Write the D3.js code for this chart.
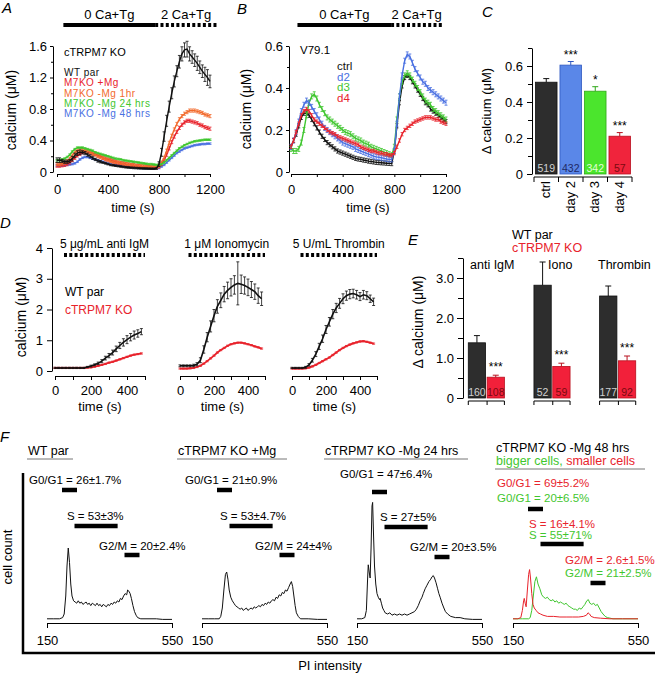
<!DOCTYPE html>
<html>
<head>
<meta charset="utf-8">
<script src="https://cdn.jsdelivr.net/npm/d3@7"></script>
<style>
body { margin: 0; background: #fff; }
svg { font-family: "Liberation Sans", Arial, Helvetica, sans-serif; }
</style>
</head>
<body>
<svg id="fig" width="657" height="675"></svg>
<script>
// ---------- data ----------
// A: Ca traces, sampled every 20 s
const tA = d3.range(0, 1201, 20);
const aLegend = ['WT par', 'M7KO +Mg', 'M7KO -Mg 1hr', 'M7KO -Mg 24 hrs', 'M7KO -Mg 48 hrs'];
const aWT = [0.15,0.15,0.14,0.13,0.13,0.14,0.17,0.21,0.24,0.25,0.25,0.24,0.22,0.2,0.18,0.16,0.14,0.13,0.12,0.11,
  0.1,0.09,0.085,0.08,0.075,0.07,0.065,0.06,0.058,0.055,0.052,0.05,0.048,0.046,0.045,0.044,0.043,0.042,0.042,0.045,
  0.1,0.25,0.45,0.65,0.83,1.0,1.15,1.28,1.4,1.5,1.55,1.56,1.5,1.46,1.42,1.38,1.33,1.28,1.24,1.2,1.15];
const aWTErr = [0.03,0.03,0.02,0.02,0.02,0.02,0.03,0.03,0.03,0.03,0.02,0.02,0.02,0.02,0.02,0.015,0.015,0.015,0.01,0.01,
  0.01,0.01,0.01,0.01,0.01,0.01,0.01,0.01,0.01,0.01,0.01,0.01,0.01,0.01,0.01,0.01,0.01,0.01,0.01,0.01,
  0.03,0.05,0.06,0.07,0.07,0.07,0.07,0.07,0.08,0.09,0.09,0.1,0.09,0.08,0.08,0.09,0.08,0.08,0.09,0.1,0.08];
const aMg = [0.08,0.08,0.085,0.09,0.1,0.12,0.15,0.18,0.21,0.23,0.25,0.26,0.26,0.25,0.24,0.23,0.21,0.2,0.18,0.17,
  0.16,0.15,0.14,0.13,0.12,0.115,0.11,0.1,0.095,0.09,0.085,0.08,0.075,0.07,0.068,0.065,0.062,0.06,0.058,0.058,
  0.07,0.1,0.15,0.22,0.3,0.38,0.45,0.51,0.56,0.6,0.63,0.65,0.65,0.64,0.63,0.62,0.6,0.59,0.57,0.56,0.55];
const aMg1hr = [0.1,0.1,0.11,0.12,0.14,0.17,0.21,0.25,0.27,0.28,0.28,0.27,0.26,0.25,0.23,0.22,0.2,0.19,0.18,0.16,
  0.15,0.14,0.13,0.125,0.12,0.11,0.105,0.1,0.095,0.09,0.085,0.08,0.078,0.075,0.072,0.07,0.068,0.066,0.065,0.066,
  0.08,0.12,0.18,0.27,0.37,0.46,0.54,0.61,0.67,0.71,0.74,0.76,0.78,0.78,0.78,0.77,0.76,0.75,0.73,0.72,0.71];
const aMg24 = [0.15,0.15,0.16,0.17,0.19,0.22,0.26,0.29,0.31,0.31,0.31,0.3,0.29,0.28,0.27,0.25,0.24,0.23,0.22,0.21,
  0.2,0.19,0.18,0.17,0.165,0.16,0.15,0.145,0.14,0.135,0.13,0.125,0.12,0.115,0.11,0.105,0.1,0.1,0.095,0.09,
  0.09,0.1,0.12,0.15,0.18,0.21,0.24,0.27,0.3,0.32,0.34,0.355,0.37,0.38,0.39,0.395,0.4,0.405,0.41,0.41,0.41];
const aMg48 = [0.08,0.08,0.08,0.085,0.09,0.095,0.1,0.11,0.13,0.16,0.18,0.19,0.19,0.18,0.17,0.16,0.15,0.14,0.13,0.12,
  0.11,0.1,0.095,0.09,0.085,0.08,0.075,0.07,0.065,0.06,0.058,0.055,0.052,0.05,0.048,0.046,0.045,0.044,0.043,0.045,
  0.05,0.07,0.09,0.12,0.15,0.18,0.21,0.24,0.26,0.28,0.3,0.31,0.32,0.33,0.34,0.345,0.35,0.355,0.355,0.36,0.36];
const aProto = [{txt: '0 Ca+Tg', t0: 50, t1: 770, dash: false}, {txt: '2 Ca+Tg', t0: 770, t1: 1255, dash: true}];

// B: V79.1 traces
const bLegend = ['ctrl', 'd2', 'd3', 'd4'];
const bCtrl = [0.12,0.15,0.18,0.22,0.26,0.28,0.28,0.27,0.25,0.23,0.21,0.19,0.17,0.155,0.14,0.13,0.12,0.11,0.1,0.095,
  0.09,0.085,0.08,0.075,0.07,0.065,0.062,0.06,0.057,0.055,0.052,0.05,0.048,0.046,0.045,0.044,0.043,0.042,0.041,0.04,
  0.1,0.22,0.33,0.41,0.45,0.46,0.45,0.43,0.41,0.39,0.37,0.35,0.33,0.32,0.3,0.29,0.28,0.27,0.26,0.25,0.24];
const bD2 = [0.12,0.15,0.19,0.24,0.29,0.32,0.34,0.33,0.31,0.29,0.27,0.25,0.23,0.21,0.2,0.19,0.18,0.17,0.16,0.15,
  0.14,0.135,0.13,0.125,0.12,0.11,0.105,0.1,0.095,0.09,0.085,0.08,0.075,0.072,0.07,0.068,0.065,0.062,0.06,0.06,
  0.1,0.23,0.36,0.46,0.53,0.56,0.55,0.52,0.49,0.47,0.45,0.43,0.42,0.4,0.39,0.38,0.37,0.36,0.35,0.34,0.33];
const bD3 = [0.11,0.1,0.1,0.11,0.14,0.2,0.27,0.33,0.36,0.37,0.35,0.32,0.3,0.28,0.26,0.25,0.24,0.23,0.22,0.21,
  0.2,0.19,0.185,0.18,0.17,0.16,0.155,0.15,0.14,0.135,0.13,0.12,0.115,0.11,0.105,0.1,0.095,0.09,0.085,0.08,
  0.12,0.25,0.36,0.43,0.46,0.47,0.46,0.44,0.42,0.4,0.38,0.36,0.34,0.33,0.32,0.3,0.29,0.28,0.27,0.26,0.25];
const bD4 = [0.12,0.15,0.19,0.23,0.27,0.29,0.3,0.29,0.27,0.25,0.24,0.23,0.22,0.21,0.2,0.19,0.185,0.18,0.17,0.165,
  0.16,0.155,0.15,0.145,0.14,0.135,0.13,0.12,0.115,0.11,0.105,0.1,0.1,0.095,0.09,0.09,0.085,0.085,0.08,0.08,
  0.09,0.12,0.15,0.18,0.2,0.21,0.22,0.23,0.24,0.245,0.25,0.255,0.26,0.26,0.26,0.255,0.25,0.25,0.24,0.235,0.23];
const bProto = [{txt: '0 Ca+Tg', t0: 50, t1: 775, dash: false}, {txt: '2 Ca+Tg', t0: 775, t1: 1170, dash: true}];

// C: delta calcium bars
const cCats = ['ctrl', 'day 2', 'day 3', 'day 4'];
const cVals = [0.51, 0.605, 0.46, 0.21];
const cErr = [0.02, 0.02, 0.025, 0.02];
const cN = [519, 432, 342, 57];
const cSig = ['', '***', '*', '***'];

// D: stimulus traces, every 20 s
const tD = d3.range(0, 481, 20);
const dStim = ['5 μg/mL anti IgM', '1 μM Ionomycin', '5 U/mL Thrombin'];
const dWT = [
  [0.1,0.1,0.1,0.1,0.1,0.1,0.1,0.1,0.1,0.13,0.16,0.2,0.25,0.32,0.42,0.5,0.6,0.72,0.83,0.93,1.02,1.1,1.17,1.22,1.28],
  [0.17,0.17,0.17,0.17,0.18,0.22,0.35,0.7,1.1,1.45,1.8,2.1,2.3,2.5,2.62,2.72,2.8,2.85,2.82,2.78,2.72,2.65,2.58,2.45,2.35],
  [0.1,0.1,0.1,0.1,0.12,0.2,0.35,0.55,0.8,1.05,1.35,1.6,1.85,2.05,2.2,2.35,2.45,2.5,2.52,2.48,2.42,2.48,2.45,2.35,2.25]
];
const dWTErr = [
  [0.02,0.02,0.02,0.02,0.02,0.02,0.02,0.02,0.02,0.02,0.03,0.03,0.04,0.05,0.06,0.07,0.08,0.09,0.1,0.12,0.13,0.12,0.13,0.12,0.1],
  [0.03,0.03,0.03,0.03,0.04,0.05,0.08,0.12,0.15,0.18,0.2,0.22,0.24,0.25,0.27,0.28,0.3,0.7,0.3,0.28,0.27,0.26,0.25,0.25,0.22],
  [0.02,0.02,0.02,0.02,0.03,0.04,0.06,0.08,0.1,0.12,0.13,0.14,0.15,0.15,0.16,0.16,0.15,0.15,0.14,0.14,0.13,0.14,0.13,0.12,0.12]
];
const dKO = [
  [0.1,0.1,0.1,0.1,0.1,0.1,0.1,0.1,0.1,0.11,0.12,0.14,0.17,0.2,0.23,0.27,0.3,0.34,0.38,0.42,0.46,0.5,0.53,0.55,0.57],
  [0.08,0.08,0.08,0.09,0.1,0.13,0.17,0.24,0.32,0.41,0.5,0.6,0.68,0.75,0.82,0.87,0.9,0.92,0.92,0.9,0.87,0.84,0.8,0.77,0.73],
  [0.08,0.08,0.08,0.08,0.09,0.11,0.15,0.2,0.26,0.32,0.38,0.44,0.52,0.6,0.68,0.75,0.81,0.86,0.9,0.93,0.96,0.97,0.95,0.92,0.89]
];
const dProto = [50, 500];

// E: delta calcium, WT vs KO
const eGroups = ['anti IgM', 'Iono', 'Thrombin'];
const eWT = [1.38, 2.82, 2.55];
const eWTErr = [0.18, 0.58, 0.25];
const eKO = [0.52, 0.79, 0.93];
const eKOErr = [0.05, 0.08, 0.12];
const eNWT = [160, 52, 177];
const eNKO = [108, 59, 92];

// F: cell cycle histograms [PI intensity, count]
const fTitles = ['WT par', 'cTRPM7 KO +Mg', 'cTRPM7 KO -Mg 24 hrs', 'cTRPM7 KO -Mg 48 hrs'];
const fPhase = ['G0/G1', 'S', 'G2/M'];
const fGates = [[198, 246], [238, 376], [398, 446]];
const fPct = [['26±1.7%', '53±3%', '20±2.4%'], ['21±0.9%', '53±4.7%', '24±4%'], ['47±6.4%', '27±5%', '20±3.5%']];
const fPct48Small = ['69±5.2%', '16±4.1%', '2.6±1.5%'];
const fPct48Big = ['20±6.5%', '55±71%', '21±2.5%'];
const fHistWT = [[150,1],[170,1],[190,1],[200,2],[205,5],[210,20],[214,45],[218,60],[222,48],[226,30],[230,20],[235,16],
  [240,15],[245,14],[250,16],[255,14],[260,15],[265,13],[270,14],[275,15],[280,13],[285,14],[290,12],[295,14],[300,13],
  [305,12],[310,14],[315,12],[320,13],[325,11],[330,13],[335,12],[340,11],[345,13],[350,12],[355,14],[360,13],[365,15],
  [370,14],[375,16],[380,15],[385,18],[390,17],[395,20],[400,22],[405,21],[408,25],[412,24],[416,22],[420,18],[425,12],
  [430,7],[435,4],[440,2],[450,1],[470,1],[500,1],[520,0.5],[550,0.5]];
const fHistMg = [[150,1],[170,1],[190,1],[205,1],[210,3],[215,10],[220,25],[225,38],[229,40],[233,34],[237,25],[242,19],
  [247,16],[252,14],[257,12],[262,11],[267,10],[272,9],[277,10],[282,8],[287,9],[292,10],[297,8],[302,9],[307,10],[312,9],
  [317,11],[322,10],[327,11],[332,12],[337,11],[342,13],[347,12],[352,14],[357,13],[362,15],[367,14],[372,16],[377,17],
  [382,16],[387,19],[392,18],[397,21],[402,20],[407,23],[412,22],[417,25],[422,24],[427,27],[432,30],[436,32],[440,28],
  [444,20],[448,12],[452,6],[458,3],[465,1],[490,1],[520,0.5],[550,0.5]];
const fHist24 = [[150,1],[165,1],[175,2],[180,8],[184,35],[186,46],[189,40],[192,35],[195,60],[198,95],[200,98],[203,70],
  [206,45],[210,30],[214,22],[218,19],[222,17],[224,18],[228,14],[232,10],[236,8],[240,6],[248,5],[255,6],[262,4],[270,5],
  [278,4],[286,5],[294,4],[302,5],[310,4],[318,5],[326,6],[334,7],[340,9],[346,12],[352,16],[358,19],[362,22],[368,26],
  [374,29],[380,32],[386,34],[390,36],[394,37],[398,35],[403,31],[408,26],[412,22],[416,19],[422,14],[428,10],[433,7],
  [440,5],[450,3],[465,2],[480,2],[495,1],[520,0.5],[550,0.5]];
const fHist48Small = [[150,1],[165,1],[175,2],[180,8],[184,16],[186,18],[189,14],[192,11],[196,25],[200,38],[203,42],
  [206,35],[210,22],[214,13],[218,10],[224,8],[230,6],[238,5],[246,4],[260,3],[280,3],[300,2.5],[320,2.5],[340,2.5],
  [360,2.5],[375,3],[385,4],[390,6],[395,5],[400,3],[410,2],[430,1.5],[460,1],[500,1],[550,1]];
const fHist48Big = [[150,1],[180,1],[200,1],[205,2],[210,8],[215,20],[220,32],[225,36],[230,30],[236,26],[242,21],
  [248,19],[254,18],[260,19],[266,17],[272,16],[278,17],[284,15],[290,16],[296,14],[302,15],[308,14],[314,13],[320,14],
  [326,12],[332,11],[338,10],[344,9],[350,9],[356,8],[362,10],[368,9],[374,11],[380,13],[386,16],[391,17],[396,14],
  [402,13],[408,14],[414,12],[420,13],[426,10],[432,7],[438,5],[445,3],[452,2],[470,1],[500,1],[550,1]];

// ---------- style ----------
const FONT = '"Liberation Sans", Arial, Helvetica, sans-serif';
const BLACK = '#111', RED = '#e8232c', ORANGE = '#f26a2c', GREEN = '#3fc62e', BLUE = '#4a70e2';
const svg = d3.select('#fig');

// ---------- helpers ----------
const label = (x, y, s, o = {}) => {
	let t = svg.append('text').attr('x', x).attr('y', y).text(s)
		.attr('font-size', o.size || 13).attr('fill', o.color || '#000')
		.attr('text-anchor', o.anchor || 'start');
	if (o.italic) { t.attr('font-style', 'italic'); }
	if (o.rot) { t.attr('transform', `rotate(-90,${x},${y})`); }
	if (o.ls) { t.attr('letter-spacing', o.ls); }
	return t;
};

const styleAxis = (g) => {
	g.attr('font-family', FONT).attr('font-size', 13);
	g.selectAll('line, path').attr('stroke', '#000').attr('stroke-width', 1);
	g.selectAll('text').attr('fill', '#000');
};

const fmt1 = d => d === 0 ? '0' : d3.format('.1f')(d);

const axisY = (x, y, major, minor, fmt, tick, pad) => {
	let g = svg.append('g').attr('transform', `translate(${x},0)`);
	g.call(d3.axisLeft(y).tickValues(major).tickSizeInner(tick).tickSizeOuter(0).tickPadding(pad).tickFormat(fmt));
	if (minor) {
		g.append('g').call(d3.axisLeft(y).tickValues(minor).tickSizeInner(tick - 1).tickSizeOuter(0).tickFormat(''))
			.select('.domain').remove();
	}
	styleAxis(g);
	return g;
};

const axisX = (yPos, x, major, minor, fmt, tick, pad) => {
	let g = svg.append('g').attr('transform', `translate(0,${yPos})`);
	g.call(d3.axisBottom(x).tickValues(major).tickSizeInner(tick).tickSizeOuter(0).tickPadding(pad).tickFormat(fmt));
	if (minor) {
		g.append('g').call(d3.axisBottom(x).tickValues(minor).tickSizeInner(tick).tickSizeOuter(0).tickFormat(''))
			.select('.domain').remove();
	}
	styleAxis(g);
	return g;
};

const drawSeries = (t, x, y, vals, err, color, w = 1.4) => {
	let g = svg.append('g').attr('stroke', color).attr('fill', 'none');
	const e = i => Array.isArray(err) ? err[i] : err;
	g.append('path').datum(vals).attr('stroke-width', w)
		.attr('d', d3.line().x((d, i) => x(t[i])).y(d => y(d)));
	g.selectAll('path.eb').data(vals).join('path').attr('class', 'eb').attr('stroke-width', 0.8)
		.attr('d', (d, i) => {
			let cx = x(t[i]), y1 = y(d + e(i)), y2 = y(d - e(i));
			return `M${cx},${y2}V${y1}M${cx - 1.5},${y1}h3M${cx - 1.5},${y2}h3`;
		});
};

const protocol = (x, items, yBar, yTxt) => {
	for (let p of items) {
		svg.append('line').attr('x1', x(p.t0)).attr('x2', x(p.t1)).attr('y1', yBar).attr('y2', yBar)
			.attr('stroke', '#000').attr('stroke-width', 4)
			.attr('stroke-dasharray', p.dash ? '3,2.3' : null);
		label((x(p.t0) + x(p.t1)) / 2, yTxt, p.txt, {anchor: 'middle'});
	}
};

const errBar = (cx, yTop, yVal, color) => {
	svg.append('path').attr('d', `M${cx},${yVal}V${yTop}M${cx - 3},${yTop}h6`)
		.attr('stroke', color).attr('stroke-width', 1).attr('fill', 'none');
};

// ---------- panel A ----------
const xA = d3.scaleLinear().domain([0, 1200]).range([57, 210]);
const yA = d3.scaleLinear().domain([0, 1.6]).range([172, 46]);
label(2, 13, 'A', {size: 15, italic: true});
protocol(xA, aProto, 25, 19);
axisY(53, yA, [0, 0.4, 0.8, 1.2, 1.6], [0.2, 0.6, 1.0, 1.4], fmt1, 3, 3);
axisX(174, xA, [0, 400, 800, 1200], [200, 600, 1000], d3.format('d'), 3, 8);
label(16, 110, 'calcium (μM)', {size: 14, anchor: 'middle', rot: true});
label(133, 212, 'time (s)', {anchor: 'middle'});
const aSeries = [[aMg48, 0.01, BLUE], [aMg, 0.02, RED], [aMg1hr, 0.02, ORANGE], [aMg24, 0.01, GREEN], [aWT, aWTErr, BLACK]];
for (let s of aSeries) { drawSeries(tA, xA, yA, s[0], s[1], s[2]); }
label(64, 56, 'cTRPM7 KO', {size: 11});
[BLACK, RED, ORANGE, GREEN, BLUE].forEach((c, i) => label(64, 76 + i * 10.3, aLegend[i], {size: 10, color: c, ls: 0.5}));

// ---------- panel B ----------
const xB = d3.scaleLinear().domain([0, 1200]).range([291, 446]);
const yB = d3.scaleLinear().domain([0, 0.6]).range([172, 46]);
label(237, 14, 'B', {size: 15, italic: true});
protocol(xB, bProto, 25, 19);
axisY(289, yB, [0, 0.2, 0.4, 0.6], [0.1, 0.3, 0.5], fmt1, 3, 3);
axisX(174, xB, [0, 400, 800, 1200], [200, 600, 1000], d3.format('d'), 3, 8);
label(251, 109, 'calcium (μM)', {size: 14, anchor: 'middle', rot: true});
label(368, 212, 'time (s)', {anchor: 'middle'});
const bSeries = [[bCtrl, 0.01, BLACK], [bD3, 0.012, GREEN], [bD2, 0.012, BLUE], [bD4, 0.008, RED]];
for (let s of bSeries) { drawSeries(tA, xB, yB, s[0], s[1], s[2]); }
label(300, 54, 'V79.1', {size: 11.5});
[BLACK, BLUE, GREEN, RED].forEach((c, i) => label(337, 70 + i * 10.5, bLegend[i], {size: 11.5, color: c}));

// ---------- panel C ----------
const xC = d3.scaleBand().domain(cCats).range([534, 632]).paddingInner(0.12).paddingOuter(0.06);
const yC = d3.scaleLinear().domain([0, 0.7]).range([174, 48]);
const cFill = ['#2d2d2d', '#5a87e8', '#4be52d', '#f0243c'];
const cEdge = ['#111', '#2f58c0', '#2fa818', '#b8101e'];
const cNum = ['#d0d0d0', '#1e2a66', '#e2ffd6', '#7a0a10'];
label(482, 17, 'C', {size: 15, italic: true});
axisY(532, yC, [0, 0.2, 0.4, 0.6], [0.1, 0.3, 0.5, 0.7], fmt1, 5, 4);
svg.append('g').selectAll('rect').data(cVals).join('rect')
	.attr('x', (d, i) => xC(cCats[i])).attr('width', xC.bandwidth())
	.attr('y', d => yC(d)).attr('height', d => yC(0) - yC(d))
	.attr('fill', (d, i) => cFill[i]).attr('stroke', (d, i) => cEdge[i]).attr('stroke-width', 0.8);
cVals.forEach((v, i) => {
	let cx = xC(cCats[i]) + xC.bandwidth() / 2;
	errBar(cx, yC(v + cErr[i]), yC(v), cEdge[i]);
	label(cx, 171.5, cN[i], {size: 10.5, color: cNum[i], anchor: 'middle'});
	if (cSig[i]) { label(cx, yC(v + cErr[i]) - 3, cSig[i], {size: 12, anchor: 'middle'}); }
	label(cx + 4, 181, cCats[i], {anchor: 'end', rot: true});
});
svg.append('path').attr('fill', 'none').attr('stroke', '#000')
	.attr('d', 'M534,177H632' + cCats.map(c => `M${xC(c) - xC.step() * 0.06},177v5`).join('') + 'M632,177v5');
label(491, 111, 'Δ calcium (μM)', {anchor: 'middle', rot: true});

// ---------- panel D ----------
const yD = d3.scaleLinear().domain([0, 4]).range([371, 248]);
const xD = [[55, 145], [180, 265], [292, 377]].map(r => d3.scaleLinear().domain([0, 500]).range(r));
label(0, 228, 'D', {size: 15, italic: true});
axisY(52, yD, [0, 1, 2, 3, 4], null, d3.format('d'), 5, 4);
label(26, 317, 'calcium (μM)', {size: 14, anchor: 'middle', rot: true});
xD.forEach((x, k) => {
	axisX(376, x, [0, 200, 400], [100, 300, 500], d3.format('d'), 4, 6);
	label((x(0) + x(500)) / 2, 411, 'time (s)', {anchor: 'middle'});
	svg.append('line').attr('x1', x(dProto[0])).attr('x2', x(dProto[1])).attr('y1', 255).attr('y2', 255)
		.attr('stroke', '#000').attr('stroke-width', 4).attr('stroke-dasharray', '3,2.3');
	label((x(dProto[0]) + x(dProto[1])) / 2, 248, dStim[k], {size: 12, anchor: 'middle'});
	drawSeries(tD, x, yD, dKO[k], 0.02, RED, 1.8);
	drawSeries(tD, x, yD, dWT[k], dWTErr[k], BLACK, 1.6);
});
label(65, 296, 'WT par', {size: 12});
label(65, 313.5, 'cTRPM7 KO', {size: 12, color: RED});

// ---------- panel E ----------
const xE = d3.scaleBand().domain(eGroups).range([465, 639]).paddingInner(0.45).paddingOuter(0.05);
const xE2 = d3.scaleBand().domain(['wt', 'ko']).range([0, xE.bandwidth()]).paddingInner(0.08);
const yE = d3.scaleLinear().domain([0, 3.5]).range([398, 258]);
const eLabelX = [470, 548, 598];
label(408, 245, 'E', {size: 15, italic: true});
label(512, 239, 'WT par', {size: 12.5});
label(512, 252, 'cTRPM7 KO', {size: 12.5, color: RED});
axisY(463, yE, [0, 1, 2, 3], [0.5, 1.5, 2.5, 3.5], fmt1, 6, 3);
label(423, 322, 'Δ calcium (μM)', {size: 14, anchor: 'middle', rot: true});
eGroups.forEach((gName, i) => {
	let rows = [['wt', eWT[i], eWTErr[i], eNWT[i], '#2d2d2d', '#111', '#d0d0d0'],
		['ko', eKO[i], eKOErr[i], eNKO[i], '#f2203a', '#b8101e', '#7a0a10']];
	for (let r of rows) {
		let x0 = xE(gName) + xE2(r[0]), w = xE2.bandwidth(), cx = x0 + w / 2;
		svg.append('rect').attr('x', x0).attr('width', w).attr('y', yE(r[1])).attr('height', yE(0) - yE(r[1]))
			.attr('fill', r[4]).attr('stroke', r[5]).attr('stroke-width', 0.8);
		errBar(cx, yE(r[1] + r[2]), yE(r[1]), r[5]);
		label(cx, 396, r[3], {size: 10.5, color: r[6], anchor: 'middle'});
		if (r[0] === 'ko') { label(cx, yE(r[1] + r[2]) - 4, '***', {size: 12, anchor: 'middle'}); }
	}
	let gx = xE(gName), gw = xE.bandwidth();
	svg.append('path').attr('fill', 'none').attr('stroke', '#000')
		.attr('d', `M${gx},401H${gx + gw}M${gx},401v4M${gx + xE2('ko')},401v4M${gx + gw},401v4`);
	label(eLabelX[i], 269, gName, {size: 12.5});
});

// ---------- panel F ----------
const fX0 = [47, 202, 357, 513];
const xF = fX0.map(x0 => d3.scaleLinear().domain([150, 550]).range([x0, x0 + 125]));
const yF = d3.scaleLinear().domain([0, 100]).range([620, 500]);
const fLine = (x) => d3.line().x(d => x(d[0])).y(d => yF(d[1]));
label(0, 442, 'F', {size: 15, italic: true});
svg.append('path').attr('d', 'M23,473V653H655').attr('fill', 'none').attr('stroke', '#000').attr('stroke-width', 2.5);
label(12, 557, 'cell count', {anchor: 'middle', rot: true});
label(330, 670, 'PI intensity', {anchor: 'middle'});

const fTitleX = [[28, 73], [178, 287], [325, 468], [496, 645]];
const fTitleY = [455, 455, 455, 452];
const fUnderY = [459, 459, 459, 469];
fTitles.forEach((t, k) => {
	label(fTitleX[k][0], fTitleY[k], t, {size: 12.5});
	svg.append('line').attr('x1', fTitleX[k][0] - 1).attr('x2', fTitleX[k][1]).attr('y1', fUnderY[k]).attr('y2', fUnderY[k])
		.attr('stroke', '#777').attr('stroke-width', 1);
});
let sub = svg.append('text').attr('x', 496).attr('y', 465).attr('font-size', 12.5);
sub.append('tspan').attr('fill', GREEN).text('bigger cells, ');
sub.append('tspan').attr('fill', RED).text('smaller cells');

const fHists = [fHistWT, fHistMg, fHist24];
const fTxtY = [[484, 520, 550], [484, 520, 550], [478, 521, 551]];
const fBarY = [[490, 526, 555], [490, 526, 555], [492, 527, 557]];
const fTxtDx = [[-18, 20, 52], [-17, 18, 53], [-17, 23, 53]];
xF.forEach((x, k) => {
	axisX(623, x, [150, 550], null, d3.format('d'), 5, 8);
	if (k < 3) {
		svg.append('path').datum(fHists[k]).attr('d', fLine(x)).attr('fill', 'none').attr('stroke', BLACK).attr('stroke-width', 1);
		fPhase.forEach((p, j) => {
			label(fX0[k] + fTxtDx[k][j], fTxtY[k][j], `${p} = ${fPct[k][j]}`, {size: 11.5});
			svg.append('line').attr('x1', x(fGates[j][0])).attr('x2', x(fGates[j][1]))
				.attr('y1', fBarY[k][j]).attr('y2', fBarY[k][j]).attr('stroke', '#000').attr('stroke-width', 4.5);
		});
	}
});
// 48 hrs panel: two populations
const x4 = xF[3];
svg.append('path').datum(fHist48Big).attr('d', fLine(x4)).attr('fill', 'none').attr('stroke', GREEN).attr('stroke-width', 1);
svg.append('path').datum(fHist48Small).attr('d', fLine(x4)).attr('fill', 'none').attr('stroke', RED).attr('stroke-width', 1);
const f4RedY = [487, 528, 564], f4GreenY = [502, 539, 577], f4BarY = [509, 544, 583], f4Dx = [-16, 16, 52];
fPhase.forEach((p, j) => {
	label(513 + f4Dx[j], f4RedY[j], `${p} = ${fPct48Small[j]}`, {size: 11.5, color: RED});
	label(513 + f4Dx[j], f4GreenY[j], `${p} = ${fPct48Big[j]}`, {size: 11.5, color: GREEN});
	svg.append('line').attr('x1', x4(fGates[j][0])).attr('x2', x4(fGates[j][1]))
		.attr('y1', f4BarY[j]).attr('y2', f4BarY[j]).attr('stroke', '#000').attr('stroke-width', 4.5);
});
</script>
</body>
</html>
